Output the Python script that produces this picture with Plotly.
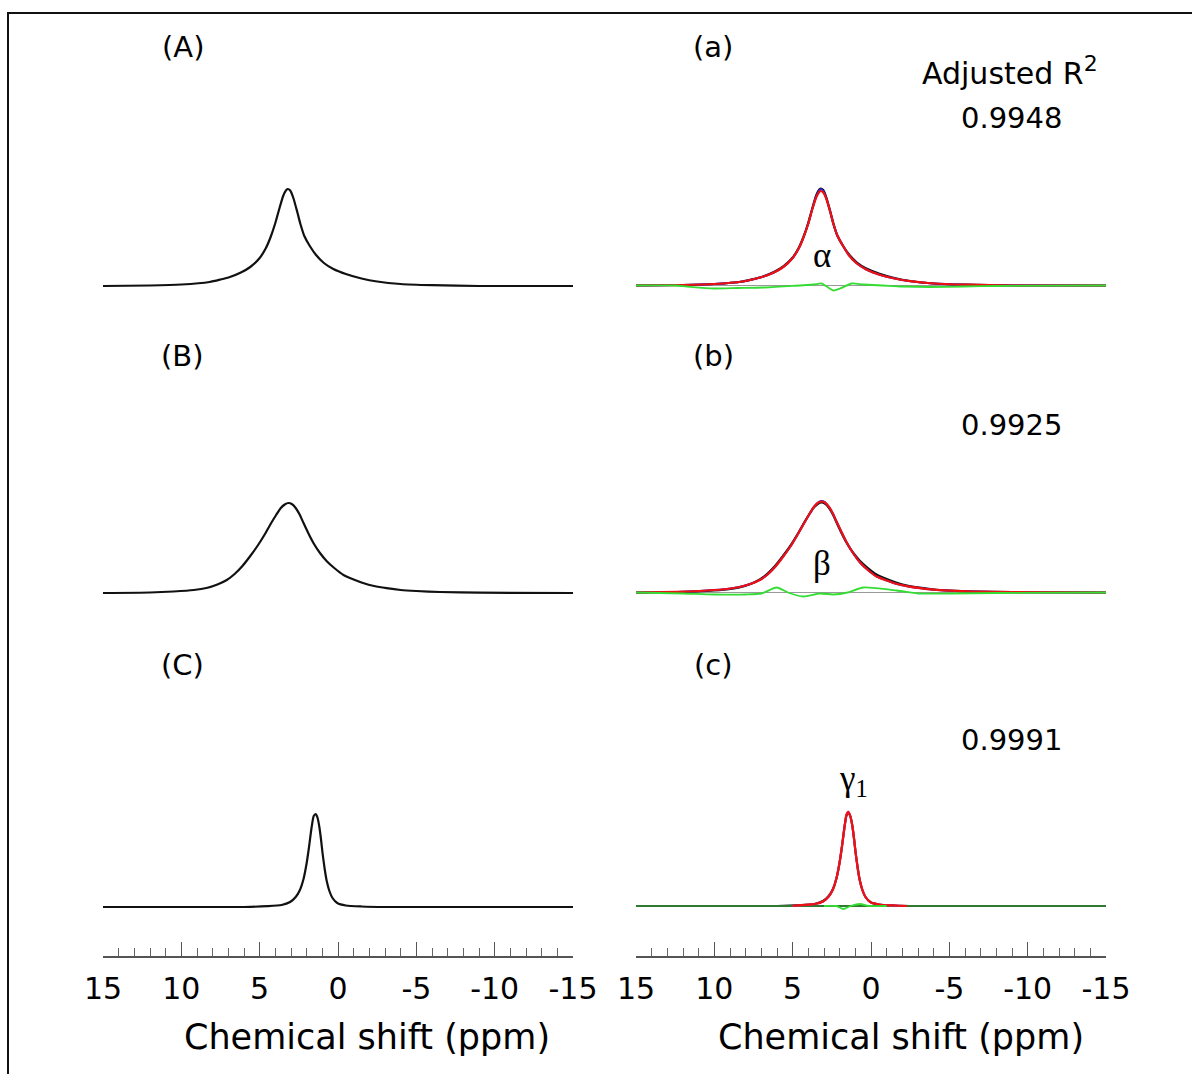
import plotly.graph_objects as go

W, H = 1192, 1074

# ---------------- data (ppm, normalised intensity) ----------------
# experimental spectra (A)/(a), (B)/(b), (C)/(c)
exp_A_x = [15, 12, 10, 8.2, 7.5, 6.9, 6.2, 5.6, 5.0, 4.6, 4.3, 4.0, 3.75, 3.5, 3.3, 3.2, 3.05, 2.85, 2.6, 2.4, 2.15, 1.8, 1.4, 0.9, 0.3, -0.5, -1.5, -2.5, -4, -6, -9, -15]
exp_A_y = [0.0, 0.005, 0.015, 0.04, 0.065, 0.09, 0.135, 0.19, 0.28, 0.38, 0.49, 0.63, 0.77, 0.90, 0.96, 0.97, 0.955, 0.88, 0.74, 0.62, 0.50, 0.40, 0.31, 0.23, 0.17, 0.12, 0.075, 0.045, 0.02, 0.008, 0.0, 0.0]

exp_B_x = [15, 12, 10.5, 9.2, 8.4, 7.7, 7.1, 6.6, 6.1, 5.6, 5.1, 4.7, 4.3, 3.95, 3.65, 3.4, 3.17, 2.95, 2.7, 2.45, 2.2, 1.9, 1.55, 1.15, 0.7, 0.2, -0.35, -1.0, -1.6, -2.3, -3.1, -4, -5, -6.5, -9, -15]
exp_B_y = [0.0, 0.005, 0.015, 0.03, 0.05, 0.085, 0.13, 0.19, 0.27, 0.37, 0.48, 0.58, 0.69, 0.78, 0.85, 0.885, 0.90, 0.89, 0.85, 0.785, 0.70, 0.60, 0.495, 0.40, 0.315, 0.245, 0.18, 0.135, 0.10, 0.07, 0.048, 0.03, 0.02, 0.01, 0.003, 0.0]

exp_C_x = [15, 6, 4.5, 3.6, 3.06, 2.7, 2.43, 2.2, 2.0, 1.85, 1.7, 1.55, 1.42, 1.3, 1.19, 1.08, 0.98, 0.85, 0.72, 0.55, 0.35, 0.05, -0.5, -1.5, -3, -15]
exp_C_y = [0.0, 0.0, 0.008, 0.02, 0.05, 0.10, 0.17, 0.28, 0.44, 0.60, 0.78, 0.91, 0.93, 0.89, 0.80, 0.67, 0.53, 0.38, 0.26, 0.16, 0.09, 0.04, 0.015, 0.005, 0.0, 0.0]

# fitted curves (red) for (a), (b), (c)
fit_a_x = exp_A_x
fit_a_y = [0.0, 0.005, 0.015, 0.04, 0.063, 0.088, 0.13, 0.185, 0.275, 0.375, 0.485, 0.62, 0.76, 0.88, 0.935, 0.945, 0.93, 0.865, 0.735, 0.615, 0.50, 0.40, 0.30, 0.22, 0.16, 0.11, 0.07, 0.043, 0.02, 0.008, 0.0, 0.0]

fit_b_x = exp_B_x
fit_b_y = [0.0, 0.008, 0.02, 0.035, 0.055, 0.085, 0.125, 0.18, 0.26, 0.36, 0.47, 0.575, 0.685, 0.78, 0.855, 0.895, 0.91, 0.90, 0.86, 0.795, 0.71, 0.61, 0.50, 0.395, 0.30, 0.225, 0.16, 0.12, 0.088, 0.063, 0.044, 0.028, 0.018, 0.01, 0.003, 0.0]

fit_c_x = [5.0, 4.5, 3.6, 3.06, 2.7, 2.43, 2.2, 2.0, 1.85, 1.7, 1.57, 1.45, 1.33, 1.19, 1.08, 0.98, 0.85, 0.72, 0.55, 0.35, 0.05, -0.5, -1.5, -2.3]
fit_c_y = [0.0, 0.008, 0.02, 0.045, 0.095, 0.165, 0.28, 0.44, 0.60, 0.78, 0.91, 0.94, 0.90, 0.80, 0.67, 0.53, 0.38, 0.26, 0.16, 0.09, 0.04, 0.015, 0.005, 0.0]

# single component curves (blue), mostly hidden beneath the fits
comp_a_y = [0.0, 0.005, 0.015, 0.04, 0.063, 0.088, 0.13, 0.185, 0.275, 0.375, 0.485, 0.62, 0.765, 0.89, 0.95, 0.965, 0.945, 0.87, 0.735, 0.615, 0.50, 0.40, 0.30, 0.22, 0.16, 0.11, 0.07, 0.043, 0.02, 0.008, 0.0, 0.0]
comp_b_y = [0.0, 0.008, 0.02, 0.035, 0.055, 0.085, 0.125, 0.18, 0.26, 0.36, 0.47, 0.575, 0.685, 0.78, 0.855, 0.897, 0.915, 0.905, 0.86, 0.795, 0.71, 0.61, 0.50, 0.395, 0.30, 0.225, 0.16, 0.12, 0.088, 0.063, 0.044, 0.028, 0.018, 0.01, 0.003, 0.0]
comp_c_y = [0.0, 0.008, 0.02, 0.045, 0.095, 0.165, 0.28, 0.44, 0.60, 0.78, 0.915, 0.945, 0.905, 0.80, 0.67, 0.53, 0.38, 0.26, 0.16, 0.09, 0.04, 0.015, 0.005, 0.0]

# residuals (green)
res_a_x = [15, 12.5, 11.76, 10.06, 8.5, 6.87, 5.17, 3.68, 3.15, 2.83, 2.41, 1.98, 1.23, 0.49, -0.79, -2.0, -3.77, -5.9, -8, -15]
res_a_y = [0.0, 0.0, -0.01, -0.03, -0.025, -0.02, -0.005, 0.01, 0.02, -0.01, -0.05, -0.03, 0.02, 0.01, 0.0, -0.01, -0.015, -0.01, -0.005, 0.0]

res_b_x = [15, 12, 10, 8, 7, 6.02, 5.3, 4.32, 3.26, 2.41, 1.5, 0.49, -1.64, -3.0, -5, -8, -15]
res_b_y = [0.0, -0.01, -0.02, -0.02, -0.01, 0.05, 0.0, -0.04, -0.01, -0.02, 0.0, 0.05, 0.02, -0.01, -0.01, -0.005, 0.0]

res_c_x = [3.0, 2.2, 1.77, 1.3, 0.70, 0.1, -1.0]
res_c_y = [0.0, 0.0, -0.03, 0.0, 0.02, 0.0, 0.0]

baseline_x = [15, -15]
baseline_y = [0.0, 0.0]

# axis ticks
tick_vals = [15, 10, 5, 0, -5, -10, -15]
tick_text = ["15", "10", "5", "0", "-5", "-10", "-15"]
x_title = "Chemical shift (ppm)"

# texts
panel_labels_left = ["(A)", "(B)", "(C)"]
panel_labels_right = ["(a)", "(b)", "(c)"]
r2_header = "Adjusted R<sup><span style='font-size:22px'>2</span></sup>"
r2_values = ["0.9948", "0.9925", "0.9991"]
component_labels = ["α", "β", "γ<sub>1</sub>"]

# ---------------- layout geometry (pixels) ----------------
col_x = [(103, 573), (636, 1106)]
row_dom = [(130, 300), (440, 610), (760, 956)]
base_px = [[286, 285.5], [593, 592.5], [907, 906]]
PX_PER_UNIT = 100.0

fig = go.Figure()

def px2x(p):
    return p / W

def px2y(p):
    return 1 - p / H

SANS = "DejaVu Sans, Arial, sans-serif"
SERIF = "Liberation Serif, Times New Roman, serif"

layout = dict(
    width=W, height=H, autosize=False,
    margin=dict(l=0, r=0, t=0, b=0, pad=0, autoexpand=False),
    paper_bgcolor="white", plot_bgcolor="rgba(0,0,0,0)",
    showlegend=False,
    font=dict(family=SANS, color="black"),
)

idx = 0
for r in range(3):
    for c in range(2):
        idx += 1
        xa = "xaxis" if idx == 1 else f"xaxis{idx}"
        ya = "yaxis" if idx == 1 else f"yaxis{idx}"
        top, bot = row_dom[r]
        b = base_px[r][c]
        yr = [-(bot - b) / PX_PER_UNIT, (b - top) / PX_PER_UNIT]
        xdict = dict(
            domain=[px2x(col_x[c][0]), px2x(col_x[c][1])],
            range=[15, -15], anchor=f"y{idx}" if idx > 1 else "y",
            showgrid=False, zeroline=False, automargin=False,
        )
        if r == 2:
            xdict.update(
                showline=True, linecolor="#555555", linewidth=1.5,
                tickmode="array", tickvals=tick_vals, ticktext=tick_text,
                ticks="inside", ticklen=14, tickwidth=1.2, tickcolor="#555555",
                tickfont=dict(family=SANS, size=30, color="black"),
                ticklabelstandoff=5,
                minor=dict(tickmode="linear", tick0=0, dtick=1, ticks="inside",
                           ticklen=8, tickwidth=1, tickcolor="#666666"),
            )
        else:
            xdict.update(showline=False, showticklabels=False, ticks="")
        layout[xa] = xdict
        layout[ya] = dict(
            domain=[px2y(bot), px2y(top)], range=yr,
            anchor=f"x{idx}" if idx > 1 else "x",
            visible=False, showgrid=False, zeroline=False, automargin=False,
        )

fig.update_layout(**layout)

def ax(i):
    return ("x" if i == 1 else f"x{i}", "y" if i == 1 else f"y{i}")

def add(i, x, y, color, width, shape="spline"):
    xr, yr = ax(i)
    fig.add_trace(go.Scatter(x=x, y=y, mode="lines", xaxis=xr, yaxis=yr,
                             line=dict(color=color, width=width, shape=shape, smoothing=0.6),
                             hoverinfo="skip"))

BLACK = "#111111"
RED = "#ee1111"
BLUE = "#3322cc"
GREEN = "#33dd33"
GRAY = "#999999"

# left column: experimental spectra
add(1, exp_A_x, exp_A_y, BLACK, 2.2)
add(3, exp_B_x, exp_B_y, BLACK, 2.2)
add(5, exp_C_x, exp_C_y, BLACK, 2.2)

# right column (a)
add(2, baseline_x, baseline_y, GRAY, 1, "linear")
add(2, exp_A_x, exp_A_y, BLACK, 2.2)
add(2, fit_a_x, comp_a_y, BLUE, 2)
add(2, fit_a_x, fit_a_y, RED, 2.2)
add(2, res_a_x, res_a_y, GREEN, 1.8)

# (b)
add(4, baseline_x, baseline_y, GRAY, 1, "linear")
add(4, exp_B_x, exp_B_y, BLACK, 2.2)
add(4, fit_b_x, comp_b_y, BLUE, 2)
add(4, fit_b_x, fit_b_y, RED, 2.2)
add(4, res_b_x, res_b_y, GREEN, 1.8)

# (c)
add(6, exp_C_x, exp_C_y, BLACK, 2.2)
add(6, baseline_x, baseline_y, "#2e7a2e", 2, "linear")
add(6, fit_c_x, comp_c_y, "#cc33cc", 2)
add(6, fit_c_x, fit_c_y, RED, 2.2)
add(6, res_c_x, res_c_y, GREEN, 1.8)

# ---------------- annotations ----------------
ann = []
def text(px, py, s, size=30, family=SANS):
    ann.append(dict(x=px2x(px), y=px2y(py), xref="paper", yref="paper", text=s,
                    showarrow=False, xanchor="center", yanchor="middle",
                    font=dict(family=family, size=size, color="black")))

label_rows_py = [47, 356, 665]
for k in range(3):
    text(183, label_rows_py[k], panel_labels_left[k], 29)
    text(713, label_rows_py[k], panel_labels_right[k], 29)

text(1010, 71, r2_header, 30)
r2_py = [118, 425, 740]
for k in range(3):
    text(1011, r2_py[k], r2_values[k], 29)

greek_pos = [(822, 256), (822, 563), (853, 780)]
for k in range(3):
    text(greek_pos[k][0], greek_pos[k][1], component_labels[k], 35, SERIF)

# axis titles (offset to the right of the axis centres, as in the original)
text(367, 1037, x_title, 35)
text(901, 1037, x_title, 35)

fig.update_layout(annotations=ann)

# figure frame
fig.add_shape(type="rect", xref="paper", yref="paper",
              x0=px2x(8), x1=px2x(1210), y0=px2y(1090), y1=px2y(13),
              line=dict(color="#111111", width=2), fillcolor="rgba(0,0,0,0)", layer="above")

fig.write_html("out.html", config={"displayModeBar": False})
